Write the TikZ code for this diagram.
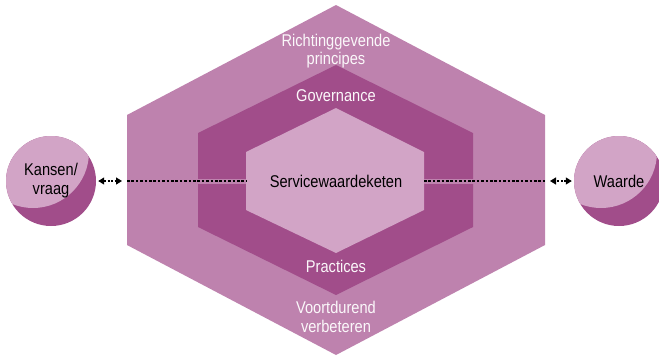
\documentclass[tikz,border=0pt]{standalone}
\usepackage{fontspec}
\setmainfont{Liberation Sans}[FakeStretch=0.86]
\usetikzlibrary{arrows.meta,calc}
\definecolor{buiten}{RGB}{190,130,174}
\definecolor{donker}{RGB}{161,77,138}
\definecolor{licht}{RGB}{210,164,198}
\tikzset{
    laag/.style  = { text=white!92!licht, align=center,
	font=\fontsize{17}{18.5}\selectfont },
	bol/.style   = { circle, fill=donker, minimum size=90pt, inner sep=0pt,
	align=center, font=\fontsize{17}{19}\selectfont,
	path picture={\fill[licht] ($(path picture bounding box.center)+(-18pt,29pt)$) circle (56pt);} },
	pijl/.style  = { draw, line width=1.2pt, dash pattern=on 2pt off 1.6pt,
	{Triangle[length=6pt,width=7pt]}-{Triangle[length=6pt,width=7pt]}, shorten <=2pt, shorten >=5pt },
	stip/.style  = { draw, line width=1.6pt, dash pattern=on 2.6pt off 1.8pt },
	spleet/.style = { draw=buiten, line width=5pt },
}

\begin{document}
\begin{tikzpicture}[x=1pt, y=-1pt]
	\useasboundingbox (0,0) rectangle (659,357);
	% lagen
	\fill[buiten] (336,5) -- (545,115) -- (545,245) -- (336,355) -- (127,245) -- (127,115) -- cycle;
	\fill[donker] (336,65) -- (473,133) -- (473,227) -- (336,295) -- (198,227) -- (198,133) -- cycle;
	\fill[licht] (336,108) -- (424,152) -- (424,210) -- (336,253) -- (246,210) -- (246,152) -- cycle;
	\coordinate (buitenL) at (127,181);
	\coordinate (buitenR) at (545,181);
	\coordinate (binnenL) at (246,181);
	\coordinate (binnenR) at (424,181);
	\node (richting) [laag] at (336,51) {Richtinggevende\\principes};
	\node (governance) [laag] at (336,96) {Governance};
	\node (keten) [font=\fontsize{17}{19}\selectfont] at (336,181) {Servicewaardeketen};
	\node (practices) [laag] at (336,266) {Practices};
	\node (verbeteren) [laag] at (336,317) {Voortdurend\\verbeteren};
	% in en uit
	\node (kansen) [bol] at (51,181) {Kansen/\\vraag};
	\node (waarde) [bol] at (619,181) {Waarde};
	\path[spleet] (buitenL) -- (binnenL);
	\path[spleet] (binnenR) -- (buitenR);
	\path[stip] (buitenL) -- (binnenL);
	\path[stip] (binnenR) -- (buitenR);
	\path[pijl] (kansen) -- (buitenL);
	\path[pijl] (waarde) -- (buitenR);
\end{tikzpicture}
\end{document}
